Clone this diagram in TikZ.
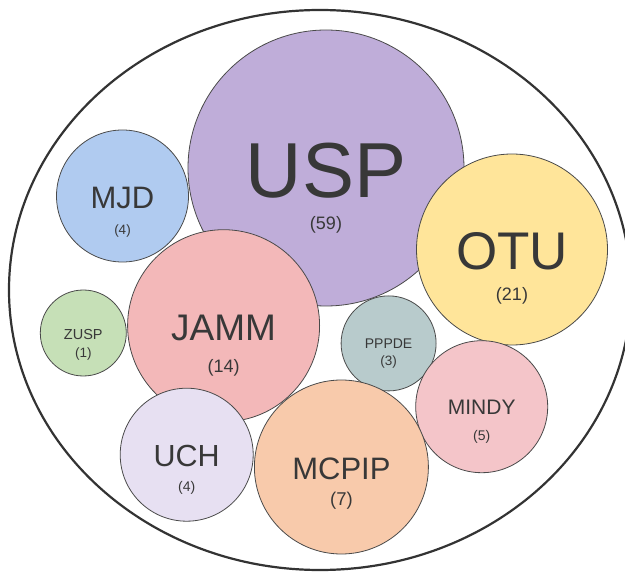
\documentclass[tikz,border=0pt]{standalone}
\usepackage{fontspec}
\setmainfont{Liberation Sans}
\usepackage{xcolor}
\usetikzlibrary{positioning}

\definecolor{rimgray}{HTML}{333333}
\definecolor{edgegray}{HTML}{4A4A4A}
\definecolor{textgray}{HTML}{383838}
\definecolor{uspfill}{HTML}{BFADD9}
\definecolor{mjdfill}{HTML}{B0CBF0}
\definecolor{otufill}{HTML}{FFE59A}
\definecolor{jammfill}{HTML}{F3B8B9}
\definecolor{zuspfill}{HTML}{C6E0B7}
\definecolor{pppdefill}{HTML}{B8CBCC}
\definecolor{mindyfill}{HTML}{F4C5C9}
\definecolor{uchfill}{HTML}{E7E0F2}
\definecolor{mcpipfill}{HTML}{F8CAAB}

\newcommand{\fsz}[1]{\fontsize{#1}{#1}\selectfont}

\begin{document}
\begin{tikzpicture}[x=1pt, y=-1pt,
    bubble/.style={circle, draw=edgegray, line width=0.8pt, inner sep=0pt},
    tag/.style={anchor=base, text=textgray, inner sep=0pt}]
            \useasboundingbox (0,0) rectangle (625,572);
            \begin{scope}
            \clip (0,0) rectangle (625,572);
            \draw[rimgray, line width=2.2pt] (320,290) ellipse [x radius=311, y radius=280];
            \end{scope}

            \node[bubble, fill=uspfill, minimum size=276] (usp) at (326,168) {};
            \node[tag, font=\fsz{78}] (uspname) at ([yshift=-30pt]usp.center) {USP};
            \node[tag, font=\fsz{18}] (uspcount) at ([yshift=-62pt]usp.center) {(59)};

            \node[bubble, fill=mjdfill, minimum size=132] (mjd) at (122.5,196) {};
            \node[tag, font=\fsz{31}] (mjdname) at ([yshift=-12.4pt]mjd.center) {MJD};
            \node[tag, font=\fsz{13.5}] (mjdcount) at ([yshift=-39pt]mjd.center) {(4)};

            \node[bubble, fill=otufill, minimum size=191] (otu) at (512,249.5) {};
            \node[tag, font=\fsz{53}] (otuname) at ([yshift=-20pt]otu.center) {OTU};
            \node[tag, font=\fsz{18}] (otucount) at ([yshift=-51pt]otu.center) {(21)};

            \node[bubble, fill=jammfill, minimum size=192] (jamm) at (223.6,325.7) {};
            \node[tag, font=\fsz{37}] (jammname) at ([yshift=-15pt]jamm.center) {JAMM};
            \node[tag, font=\fsz{18}] (jammcount) at ([yshift=-47pt]jamm.center) {(14)};

            \node[bubble, fill=zuspfill, minimum size=86] (zusp) at (83.3,333) {};
            \node[tag, font=\fsz{14.5}] (zuspname) at ([yshift=-6.5pt]zusp.center) {ZUSP};
            \node[tag, font=\fsz{13.5}] (zuspcount) at ([yshift=-25pt]zusp.center) {(1)};

            \node[bubble, fill=pppdefill, minimum size=95] (pppde) at (388.6,343.4) {};
            \node[tag, font=\fsz{14}] (pppdename) at ([yshift=-5.6pt]pppde.center) {PPPDE};
            \node[tag, font=\fsz{13.5}] (pppdecount) at ([yshift=-22pt]pppde.center) {(3)};

            \node[bubble, fill=mindyfill, minimum size=132] (mindy) at (481.7,406.7) {};
            \node[tag, font=\fsz{21}] (mindyname) at ([yshift=-8pt]mindy.center) {MINDY};
            \node[tag, font=\fsz{14}] (mindycount) at ([yshift=-34pt]mindy.center) {(5)};

            \node[bubble, fill=uchfill, minimum size=133] (uch) at (186.7,454.7) {};
            \node[tag, font=\fsz{30.5}] (uchname) at ([yshift=-12.3pt]uch.center) {UCH};
            \node[tag, font=\fsz{14}] (uchcount) at ([yshift=-37pt]uch.center) {(4)};

            \node[bubble, fill=mcpipfill, minimum size=174] (mcpip) at (341.4,467) {};
            \node[tag, font=\fsz{31}] (mcpipname) at ([yshift=-13pt]mcpip.center) {MCPIP};
            \node[tag, font=\fsz{18.5}] (mcpipcount) at ([yshift=-39pt]mcpip.center) {(7)};
        \end{tikzpicture}
\end{document}
